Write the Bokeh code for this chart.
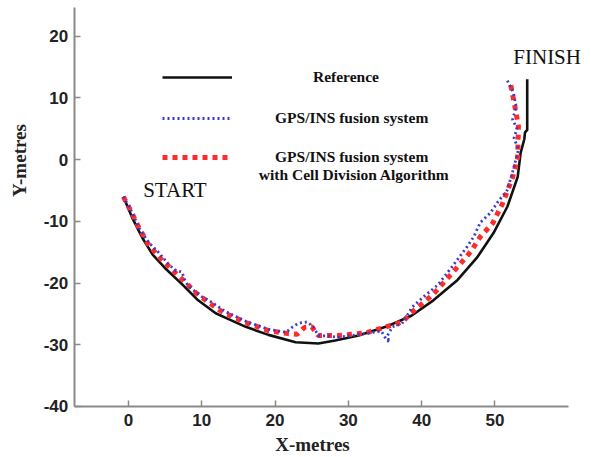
from bokeh.plotting import figure
from bokeh.models import Range1d, FixedTicker, Legend, LegendItem, Label
from bokeh.embed import file_html
from bokeh.resources import INLINE
import math

# ---- data ----
ref_x = [-0.7, 0.5, 1.9, 3.3, 5.0, 7.4, 9.5, 11.9, 13.2, 16.0, 19.1, 22.8, 25.9, 28.2,
         31.4, 35.1, 38.6, 41.6, 44.9, 47.6, 49.8, 51.7, 53.1, 53.5, 54.0, 54.1, 54.4, 54.4]
ref_y = [-6.0, -9.4, -12.7, -15.4, -17.6, -20.3, -22.8, -24.9, -25.6, -27.1, -28.4, -29.6, -29.8, -29.3,
         -28.5, -27.1, -25.3, -22.8, -19.5, -15.8, -11.9, -7.6, -2.8, 1.1, 3.3, 4.4, 4.8, 13.0]

cda_x = [-0.7, 0.4, 1.4, 2.7, 4.1, 6.0, 7.8, 9.1, 10.9, 12.3, 13.2, 16.0, 19.1, 21.8, 23.0, 24.0,
         25.0, 25.9, 28.6, 32.3, 34.6, 37.4, 38.5, 41.6, 44.3, 46.7, 48.0, 49.7, 51.0, 52.4,
         53.1, 53.2, 52.8, 52.1]
cda_y = [-6.0, -8.5, -11.0, -13.7, -15.7, -17.9, -19.9, -21.5, -23.1, -24.3, -24.9, -26.4, -27.7, -28.2, -28.3, -27.2,
         -27.1, -28.5, -28.5, -28.1, -27.3, -26.3, -24.9, -21.8, -18.2, -14.9, -12.5, -10.3, -7.2, -2.9,
         0.3, 5.4, 8.1, 12.4]

gps_x = [-0.7, 0.3, 1.6, 2.8, 4.0, 5.5, 6.5, 7.3, 7.8, 8.5, 10.0, 11.2, 13.2, 16.0, 19.1, 21.5,
         22.4, 23.2, 24.4, 25.2, 25.9, 27.5, 28.6, 30.6, 33.3, 34.5, 35.1, 35.6, 35.3, 36.0,
         37.3, 38.2, 38.7, 40.2, 42.2, 44.0, 46.2, 47.1, 48.0, 49.4, 50.3, 51.7, 52.5, 53.2,
         52.6, 53.0, 52.4, 52.9, 52.5, 51.7]
gps_y = [-6.0, -8.1, -11.4, -13.5, -14.9, -17.0, -18.0, -18.2, -19.9, -20.8, -22.2, -23.0, -24.6, -26.2, -27.5, -28.0,
         -27.1, -26.5, -26.3, -27.1, -28.5, -28.6, -28.8, -28.5, -28.0, -27.8, -29.0, -29.6, -28.6, -27.1,
         -26.6, -24.9, -23.9, -22.3, -20.3, -17.6, -14.1, -12.5, -10.2, -8.6, -7.0, -4.9, -1.6, 1.6,
         3.5, 5.0, 6.5, 8.5, 10.9, 12.8]

x_ticks = [0, 10, 20, 30, 40, 50]
y_ticks = [-40, -30, -20, -10, 0, 10, 20]
x_axis_span = (-7.4, 60)
y_axis_span = (-40, 24.6)

legend_labels = ["Reference", "GPS/INS fusion system", "GPS/INS fusion system"]
legend_extra = "with Cell Division Algorithm"
x_title = "X-metres"
y_title = "Y-metres"

SERIF = "Liberation Serif"
SANS = "Liberation Sans"
AXIS_GRAY = "#8a8a8a"
INK = "#111111"

# the frame covers the whole canvas; the axes are pinned inside it
p = figure(width=591, height=457, output_backend="svg", toolbar_location=None,
           x_range=Range1d(-17.46, 63.17), y_range=Range1d(-48.27, 25.78),
           min_border=0)
p.background_fill_color = "white"
p.border_fill_color = "white"
p.outline_line_color = None
p.xgrid.visible = False
p.ygrid.visible = False

for ax in (p.xaxis[0], p.yaxis[0]):
    ax.axis_line_color = AXIS_GRAY
    ax.axis_line_width = 2
    ax.major_tick_line_color = AXIS_GRAY
    ax.major_tick_line_width = 1.5
    ax.major_tick_in = 6
    ax.major_tick_out = 0
    ax.minor_tick_line_color = None
    ax.major_label_text_font = SANS
    ax.major_label_text_font_size = "17px"
    ax.major_label_text_font_style = "bold"
    ax.major_label_text_color = "#222222"

p.xaxis.ticker = FixedTicker(ticks=x_ticks)
p.yaxis.ticker = FixedTicker(ticks=y_ticks)
p.xaxis.major_label_overrides = {t: str(t) for t in x_ticks}
p.yaxis.major_label_overrides = {t: str(t) for t in y_ticks}
p.xaxis.bounds = x_axis_span
p.yaxis.bounds = y_axis_span
p.xaxis.fixed_location = y_axis_span[0]
p.yaxis.fixed_location = x_axis_span[0]
p.xaxis.major_label_standoff = 8
p.yaxis.major_label_standoff = 6

r_ref = p.line(ref_x, ref_y, line_color=INK, line_width=2.6)
r_cda = p.line(cda_x, cda_y, line_color="#ff2a2a", line_width=5, line_dash="5 5")
r_gps = p.line(gps_x, gps_y, line_color="#3a3acc", line_width=2.8, line_dash="2 3")

# one small legend per entry, so each row can be placed like the original
legend_specs = [(r_ref, legend_labels[0], 370, 81), (r_gps, legend_labels[1], 329, 43),
                (r_cda, legend_labels[2], 290, 43)]
for rend, lab, yb, standoff in legend_specs:
    lg = Legend(items=[LegendItem(label=lab, renderers=[rend])], location=(162, yb),
                padding=0, margin=0, spacing=0, border_line_color=None,
                background_fill_alpha=0, glyph_width=70, glyph_height=20,
                label_standoff=standoff, label_height=20,
                label_text_font=SERIF, label_text_font_style="bold",
                label_text_font_size="15.5px", label_text_align="left",
                label_text_color=INK)
    p.add_layout(lg, "center")

p.add_layout(Label(x=30.8, y=-2.4, text=legend_extra, text_font=SERIF, text_font_style="bold",
                   text_font_size="15.5px", text_align="center", text_baseline="middle",
                   text_color=INK))
p.add_layout(Label(x=2.0, y=-4.9, text="START", text_font=SERIF, text_font_size="21px",
                   text_align="left", text_baseline="middle", text_color=INK))
p.add_layout(Label(x=52.5, y=16.6, text="FINISH", text_font=SERIF, text_font_size="21px",
                   text_align="left", text_baseline="middle", text_color=INK))
p.add_layout(Label(x=25.1, y=-46.2, text=x_title, text_font=SERIF, text_font_style="bold",
                   text_font_size="19px", text_align="center", text_baseline="middle",
                   text_color="#222222"))
p.add_layout(Label(x=-14.9, y=-0.15, text=y_title, text_font=SERIF, text_font_style="bold",
                   text_font_size="19px", text_align="center", text_baseline="middle",
                   angle=math.pi / 2, text_color="#222222"))

open("out.html", "w").write(file_html(p, INLINE))
